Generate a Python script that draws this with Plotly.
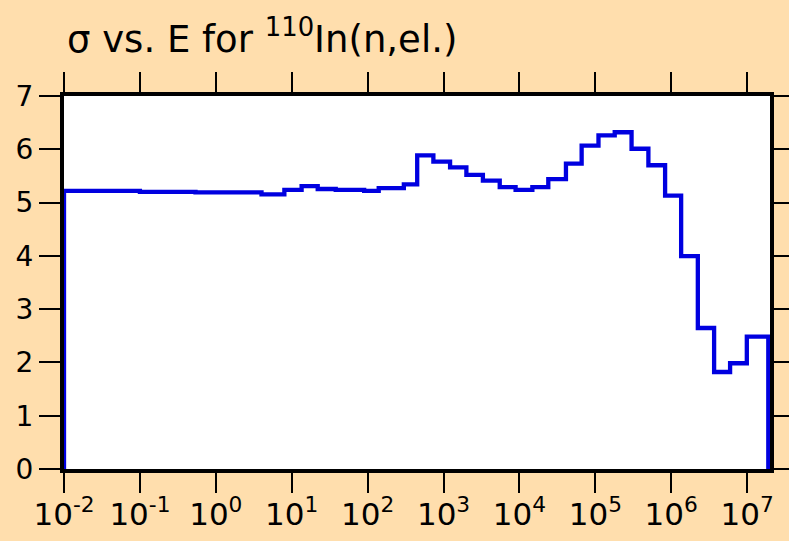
import math
import plotly.graph_objects as go

# Group boundaries (eV) and elastic cross section (b) per group
edges_eV = [0.01, 0.1, 0.54, 4.0, 8.0, 13.5, 22, 38, 90, 140, 300, 450, 735,
            1220, 2000, 3300, 5500, 8900, 14800, 24000, 41000, 66000, 110000,
            180000, 300000, 500000, 830000, 1.35e6, 2.24e6, 3.67e6, 5.96e6,
            9.9e6, 1.9e7]
sigma_b = [5.22, 5.20, 5.19, 5.155, 5.24, 5.31, 5.255, 5.24, 5.22, 5.27, 5.34,
           5.885, 5.77, 5.66, 5.52, 5.41, 5.29, 5.24, 5.29, 5.44, 5.73, 6.07,
           6.26, 6.32, 6.01, 5.70, 5.13, 3.995, 2.646, 1.82, 1.985, 2.485]

x_tick_vals = [1e-2, 1e-1, 1e0, 1e1, 1e2, 1e3, 1e4, 1e5, 1e6, 1e7]
x_tick_text = ["10<sup>-2</sup>", "10<sup>-1</sup>", "10<sup>0</sup>",
               "10<sup>1</sup>", "10<sup>2</sup>", "10<sup>3</sup>",
               "10<sup>4</sup>", "10<sup>5</sup>", "10<sup>6</sup>",
               "10<sup>7</sup>"]
y_tick_vals = [0, 1, 2, 3, 4, 5, 6, 7]

x_limits = [0.01, 2e7]
y_limits = [0, 7]

# histogram outline: rise from zero at first edge, fall to zero at last edge
xs = [edges_eV[0]] + edges_eV
ys = [0] + sigma_b + [0]

BG = "#FFDEAD"

fig = go.Figure()
fig.add_trace(go.Scatter(
    x=xs, y=ys, mode="lines",
    line=dict(shape="hv", color="#0000E0", width=4.3),
    cliponaxis=False, hoverinfo="skip",
))

font_family = "DejaVu Sans, Liberation Sans, Arial, sans-serif"

fig.update_layout(
    width=789, height=541,
    paper_bgcolor=BG, plot_bgcolor="white",
    margin=dict(l=64, r=19, t=96, b=72, pad=0, autoexpand=False),
    showlegend=False,
    font=dict(family=font_family, color="black", size=28),
    title=dict(
        text="σ vs. E for <sup>110</sup>In(n,el.)",
        xref="container", yref="container",
        x=67 / 789, xanchor="left",
        y=1 - 39 / 541, yanchor="middle",
        font=dict(family=font_family, size=37, color="black"),
    ),
    xaxis=dict(
        type="log",
        range=[math.log10(x_limits[0]), math.log10(x_limits[1])],
        tickmode="array", tickvals=x_tick_vals, ticktext=x_tick_text,
        ticks="outside", ticklen=20, tickwidth=2, tickcolor="black",
        showline=True, linewidth=4, linecolor="black", mirror="allticks",
        showgrid=False, zeroline=False, layer="below traces",
        tickfont=dict(size=31), ticklabelstandoff=-5, automargin=False,
    ),
    yaxis=dict(
        range=y_limits,
        tickmode="array", tickvals=y_tick_vals,
        ticks="outside", ticklen=21, tickwidth=2, tickcolor="black",
        showline=True, linewidth=4, linecolor="black", mirror="allticks",
        showgrid=False, zeroline=False, layer="below traces",
        tickfont=dict(size=28), ticklabelstandoff=0, automargin=False,
    ),
)

fig.write_html(
    "out.html",
    config={"displayModeBar": False},
    post_script="document.body.style.margin='0';"
                "document.body.style.background='" + BG + "';",
)
